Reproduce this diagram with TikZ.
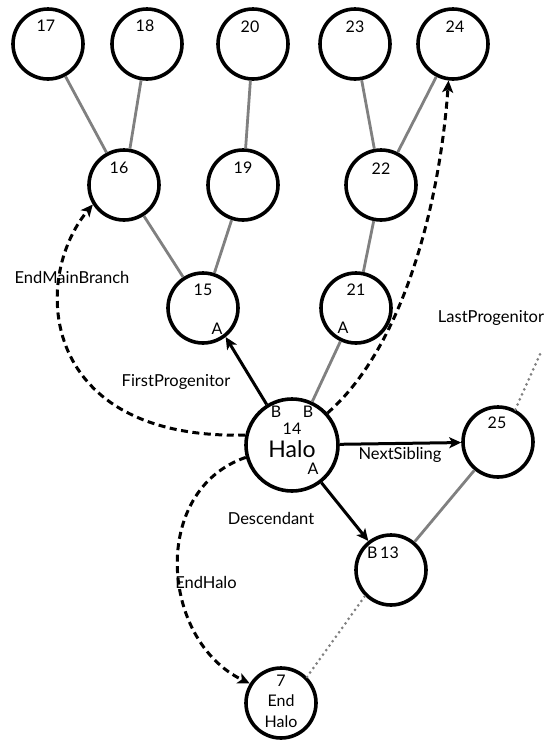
\documentclass[tikz,border=0pt]{standalone}
\usepackage{fontspec}
\setmainfont{Lato}
\usetikzlibrary{arrows.meta}
\tikzset{
  halo/.style={circle,draw=black,line width=3.6pt,minimum size=70pt,inner sep=0pt},
  bighalo/.style={circle,draw=black,line width=3.6pt,minimum size=92pt,inner sep=0pt},
  txt/.style={inner sep=0pt,font=\fontsize{16}{18}\selectfont},
  lbl/.style={inner sep=1pt,font=\fontsize{16.5}{18}\selectfont},
  tree/.style={draw=black!50,line width=2.8pt},
  dotl/.style={draw=black!50,line width=3pt,line cap=round,dash pattern=on 0pt off 5.5pt},
  ptr/.style={draw=black,line width=3pt,-{Stealth[length=12pt,width=11pt,inset=3pt]}},
  dptr/.style={ptr,dash pattern=on 7pt off 4.5pt},
}
\begin{document}
\begin{tikzpicture}[x=1pt,y=-1pt]
\useasboundingbox (0,0) rectangle (555,745);
% nodes
\node[halo] (n17) at (48,44) {};
\node[halo] (n18) at (147,44) {};
\node[halo] (n20) at (253,44) {};
\node[halo] (n23) at (355,44) {};
\node[halo] (n24) at (453,44) {};
\node[halo] (n16) at (124,185) {};
\node[halo] (n19) at (243,185) {};
\node[halo] (n22) at (381,185) {};
\node[halo] (n15) at (203,308) {};
\node[halo] (n21) at (356,308) {};
\node[bighalo] (n14) at (292,445) {};
\node[halo] (n25) at (498,442) {};
\node[halo] (n13) at (391,570) {};
\node[halo] (n7) at (281,703) {};
% inner texts
\node[txt] (t17) at (46,26) {17};
\node[txt] (t18) at (145,26) {18};
\node[txt] (t20) at (250,27) {20};
\node[txt] (t23) at (355,27) {23};
\node[txt] (t24) at (455,27) {24};
\node[txt] (t16) at (119,168) {16};
\node[txt] (t19) at (243,168) {19};
\node[txt] (t22) at (381,169) {22};
\node[txt] (t15) at (203,290) {15};
\node[txt] (t15a) at (217,329) {A};
\node[txt] (t21) at (356,290) {21};
\node[txt] (t21a) at (343,328) {A};
\node[txt] (t14b1) at (276,412) {B};
\node[txt] (t14b2) at (308,412) {B};
\node[txt] (t14) at (292,429) {14};
\node[txt,font=\fontsize{23}{26}\selectfont] (t14h) at (292,449) {Halo};
\node[txt] (t14a) at (313,469) {A};
\node[txt] (t25) at (497,423) {25};
\node[txt] (t13) at (383,553) {B\,13};
\node[txt] (t7) at (281,681) {7};
\node[txt] (t7e) at (281,701) {End};
\node[txt] (t7h) at (281,722) {Halo};
% tree links
\draw[tree] (n17) -- (n16);
\draw[tree] (n18) -- (n16);
\draw[tree] (n20) -- (n19);
\draw[tree] (n23) -- (n22);
\draw[tree] (n24) -- (n22);
\draw[tree] (n16) -- (n15);
\draw[tree] (n19) -- (n15);
\draw[tree] (n22) -- (n21);
\draw[tree] (n21) -- (n14);
\draw[tree] (n25) -- (n13);
\coordinate (free25) at (541,352);
\draw[dotl] (n25.62) -- (free25);
\draw[dotl] (n7.45) -- (n13.-135);
% pointers
\draw[ptr] (n14.122) -- (n15.-52);
\draw[ptr] (n14) -- (n25);
\draw[ptr] (n14.-52) -- (n13.128);
\draw[dptr] (n14.168) .. controls (40,440) and (30,280) .. (n16.212);
\draw[dptr] (n14.195) .. controls (150,490) and (160,640) .. (n7.148);
\draw[dptr] (n14.42) .. controls (405,345) and (440,200) .. (n24.-97);
% labels
\node[lbl] (lemb) at (72,277) {EndMainBranch};
\node[lbl] (llp) at (491,318) {LastProgenitor};
\node[lbl] (lfp) at (176,382) {FirstProgenitor};
\node[lbl] (lns) at (400,455) {NextSibling};
\node[lbl] (lde) at (271,518) {Descendant};
\node[lbl] (leh) at (206,582) {EndHalo};
\end{tikzpicture}
\end{document}
